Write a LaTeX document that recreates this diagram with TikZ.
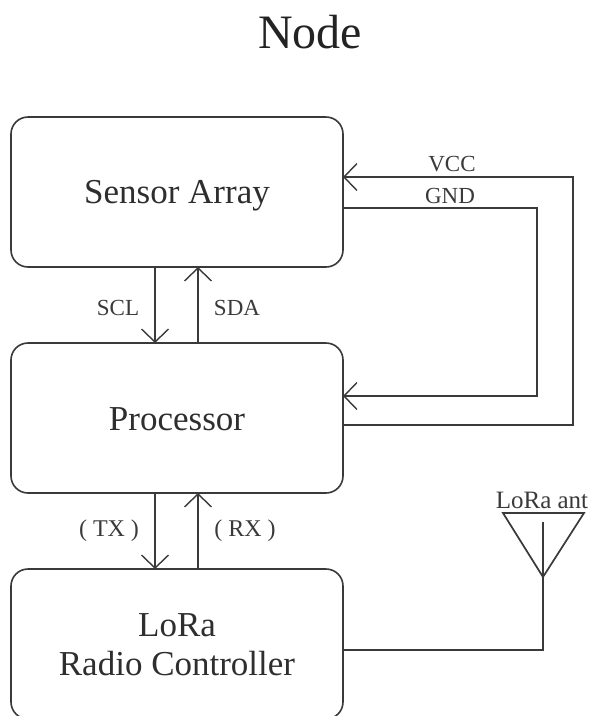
\documentclass[tikz,border=0pt]{standalone}
\usepackage{fontspec}
\setmainfont{Liberation Serif}
\usetikzlibrary{arrows.meta}
\definecolor{ink}{HTML}{3A3A3A}
\tikzset{
  x=1pt,y=-1pt,
  blockbox/.style={draw=ink,line width=1.6pt,rounded corners=17pt,minimum width=332pt,minimum height=150pt,inner sep=0pt},
  blocktext/.style={font=\fontsize{35}{39}\selectfont,text=ink!80!black,inner sep=0pt,align=center},
  wire/.style={draw=ink,line width=1.7pt},
  arrowwire/.style={wire,-{Straight Barb[length=13pt,width=27pt,line width=1.4pt]}},
  lab/.style={font=\fontsize{23}{26}\selectfont,text=ink,inner sep=0pt},
  biglab/.style={lab,font=\fontsize{24}{26}\selectfont},
}
\begin{document}
\begin{tikzpicture}
\useasboundingbox (0,0) rectangle (590,716);
\clip (0,0) rectangle (590,716);
\fill[white] (0,0) rectangle (590,716);
\node[font=\fontsize{48}{50}\selectfont,text=ink!60!black,inner sep=0pt] (title) at (310,32) {Node};
\node[blockbox] (sensor) at (177,192) {};
\node[blocktext] (sensorText) at (177,196) {Sensor Array};
\node[blockbox] (proc) at (177,418) {};
\node[blocktext] (procText) at (177,419) {Processor};
\node[blockbox] (lora) at (177,644) {};
\node[blocktext] (loraText) at (177,645) {LoRa\\Radio Controller};
% bus arrows
\coordinate (sclA) at (155,267); \coordinate (sclB) at (155,343);
\coordinate (sdaA) at (198,343); \coordinate (sdaB) at (198,267);
\coordinate (txA) at (155,493); \coordinate (txB) at (155,569);
\coordinate (rxA) at (198,569); \coordinate (rxB) at (198,493);
\draw[arrowwire] (sclA) -- (sclB);
\draw[arrowwire] (sdaA) -- (sdaB);
\draw[arrowwire] (txA) -- (txB);
\draw[arrowwire] (rxA) -- (rxB);
\node[lab] (scl) at (118,308) {SCL};
\node[lab] (sda) at (237,308) {SDA};
\node[biglab] (tx) at (109,531) {( TX )};
\node[biglab] (rx) at (245,531) {( RX )};
% power
\coordinate (vccS) at (343,177); \coordinate (vccP) at (343,425);
\coordinate (gndS) at (343,208); \coordinate (gndP) at (343,396);
\coordinate (vccC) at (573,177); \coordinate (vccD) at (573,425);
\coordinate (gndC) at (537,208); \coordinate (gndD) at (537,396);
\draw[arrowwire] (vccP) -- (vccD) -- (vccC) -- (vccS);
\draw[arrowwire] (gndS) -- (gndC) -- (gndD) -- (gndP);
\node[lab] (vcc) at (452,164) {VCC};
\node[lab] (gnd) at (450,196) {GND};
% antenna
\coordinate (loraOut) at (343,650);
\coordinate (antBend) at (543,650);
\coordinate (antApex) at (543,577);
\coordinate (antTop) at (543,522);
\coordinate (antL) at (503,513);
\coordinate (antR) at (584,513);
\draw[wire] (loraOut) -- (antBend) -- (antApex) -- (antTop);
\draw[wire,line join=miter] (antApex) -- (antL) -- (antR) -- cycle;
\node[lab,font=\fontsize{25}{26}\selectfont] (ant) at (542,500) {LoRa ant};
\end{tikzpicture}
\end{document}
